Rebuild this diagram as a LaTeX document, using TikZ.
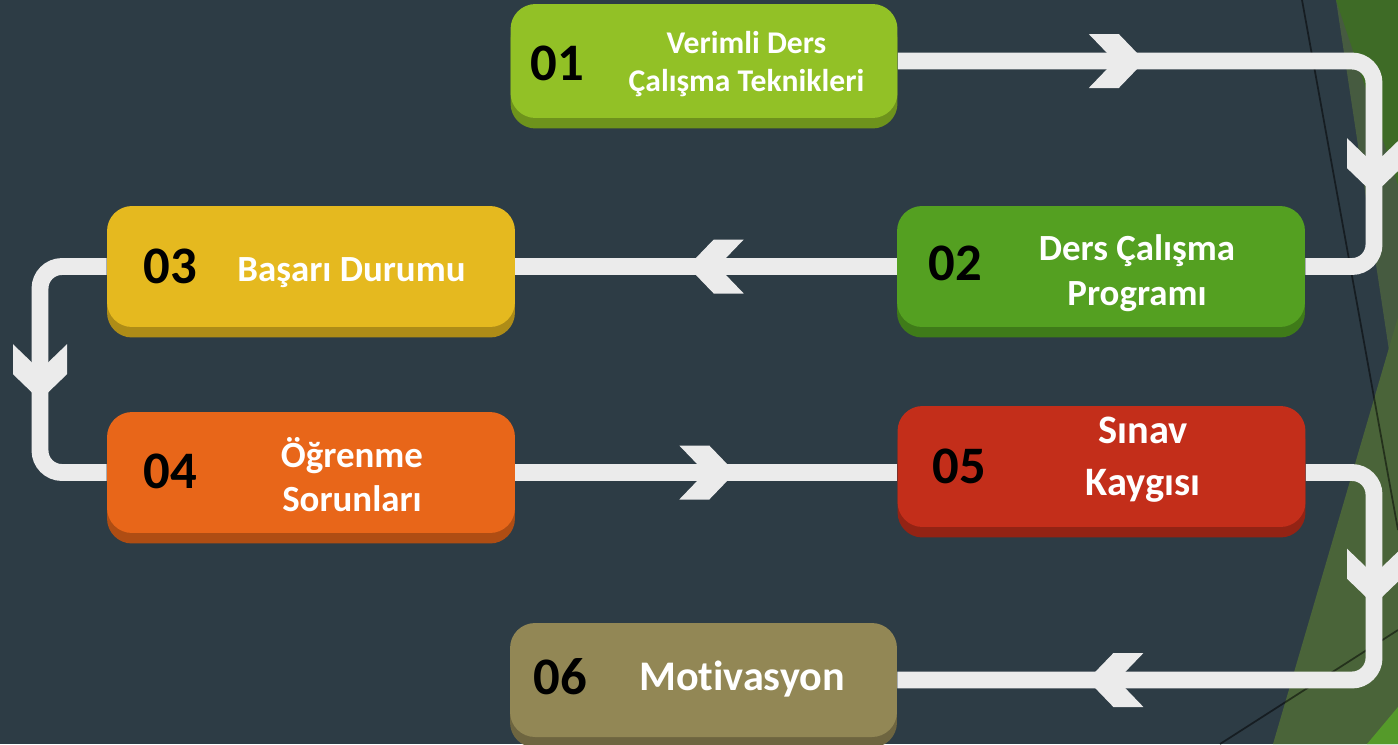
\documentclass[tikz,border=0pt]{standalone}
\usepackage{fontspec}
\setmainfont{Carlito}[Ligatures=NoCommon]
\usetikzlibrary{shadows,decorations.markings,calc}

\definecolor{slate}{HTML}{2D3C45}
\definecolor{pipecol}{HTML}{EBEBEB}
\definecolor{leafdark}{HTML}{3E6B26}
\definecolor{leafgrey}{HTML}{465B40}
\definecolor{leafolive}{HTML}{4A6439}
\definecolor{leafbright}{HTML}{559A2A}
\definecolor{c01}{HTML}{92C126}\definecolor{c01s}{HTML}{6E931C}
\definecolor{c02}{HTML}{54A021}\definecolor{c02s}{HTML}{3F7B19}
\definecolor{c03}{HTML}{E5B91F}\definecolor{c03s}{HTML}{AE8C17}
\definecolor{c04}{HTML}{E86619}\definecolor{c04s}{HTML}{AF4D13}
\definecolor{c05}{HTML}{C32E1A}\definecolor{c05s}{HTML}{932314}
\definecolor{c06}{HTML}{928755}\definecolor{c06s}{HTML}{6E6540}

\tikzset{
  stage/.style 2 args={rectangle, rounded corners=0.5cm, fill=#1, draw=none,
    general shadow={fill=#2, shadow yshift=-0.21cm}},
  wide/.style={minimum width=8.16cm, minimum height=2.42cm},
  narrow/.style={minimum width=7.74cm, minimum height=2.28cm},
  num/.style={text=black, inner sep=0pt, font=\bfseries\fontsize{30}{30}\selectfont},
  lbl/.style={text=white, inner sep=0pt, align=center, anchor=base},
  pipe/.style={draw=pipecol, line width=9.6pt, rounded corners=0.44cm},
  chevron pos/.style={postaction={decorate, decoration={markings,
    mark=at position #1 with {\fill[pipecol, sharp corners] (0,0) -- (-26,27) -- (-56,27) -- (-30,0) -- (-56,-27) -- (-26,-27) -- cycle;}}}}
}

\begin{document}
\begin{tikzpicture}[x=0.02cm, y=-0.02cm]

\useasboundingbox (0,0) rectangle (1398,744);
\clip (0,0) rectangle (1398,744);

%background and the green leaves on the right
\fill[slate] (0,0) rectangle (1398,744);
\fill[leafgrey] (1336,0) -- (1398,410) -- (1398,0) -- cycle;
\fill[leafdark] (1336,0) -- (1398,185) -- (1398,0) -- cycle;
\fill[leafolive] (1273,744) -- (1398,317) -- (1398,744) -- cycle;
\fill[leafbright] (1367,744) -- (1398,707) -- (1398,744) -- cycle;
\draw[black, opacity=.5, line width=1pt] (1302,0) -- (1398,530);
\draw[black, opacity=.5, line width=1pt] (1220,744) -- (1398,630);

%boxes
\node[stage={c01}{c01s}, narrow] (b01) at (704,61) {};
\node[stage={c02}{c02s}, wide] (b02) at (1101,266.5) {};
\node[stage={c03}{c03s}, wide] (b03) at (311,266.5) {};
\node[stage={c04}{c04s}, wide] (b04) at (311,472.5) {};
\node[stage={c05}{c05s}, wide] (b05) at (1101.5,466.5) {};
\node[stage={c06}{c06s}, narrow] (b06) at (703.5,680) {};

%numbers
\node[num] (n01) at (557,63.5) {01};
\node[num] (n02) at (955.5,263.5) {02};
\node[num] (n03) at (170,266.5) {03};
\node[num] (n04) at (170.5,471.5) {04};
\node[num] (n05) at (959.5,466.5) {05};
\node[num] (n06) at (560,676.5) {06};

%texts (base = last line)
\node[lbl, font=\bfseries\fontsize{18}{21.5}\selectfont] (t01) at (746.5,91) {Verimli Ders\\Çalışma Teknikleri};
\node[lbl, font=\bfseries\fontsize{21}{25.5}\selectfont] (t02) at (1137,305) {Ders Çalışma\\Programı};
\node[lbl, font=\bfseries\fontsize{21}{25}\selectfont] (t03) at (351.5,281) {Başarı Durumu};
\node[lbl, font=\bfseries\fontsize{21}{25}\selectfont] (t04) at (352,511) {Öğrenme\\Sorunları};
\node[lbl, font=\bfseries\fontsize{23}{29.5}\selectfont] (t05) at (1143,495) {Sınav\\Kaygısı};
\node[lbl, font=\bfseries\fontsize{24}{28}\selectfont] (t06) at (742,690) {Motivasyon};

%connectors
\coordinate (k1) at (1374,160);
\coordinate (k3) at (40,370);
\coordinate (k5) at (1374,580);
\draw[pipe, chevron pos=4.94cm, chevron pos=12cm] (b01.east) -| (k1) |- (b02.east);
\draw[pipe, chevron pos=4.18cm] (b02.west) -- (b03.east);
\draw[pipe, chevron pos=3.82cm] (b03.west) -| (k3) |- (b04.west);
\draw[pipe, chevron pos=4.4cm] (b04.east) -- (b04.east -| b05.west);
\draw[pipe, chevron pos=3.82cm, chevron pos=10.87cm] (b05.east |- b04.east) -| (k5) |- (b06.east);

\end{tikzpicture}
\end{document}
